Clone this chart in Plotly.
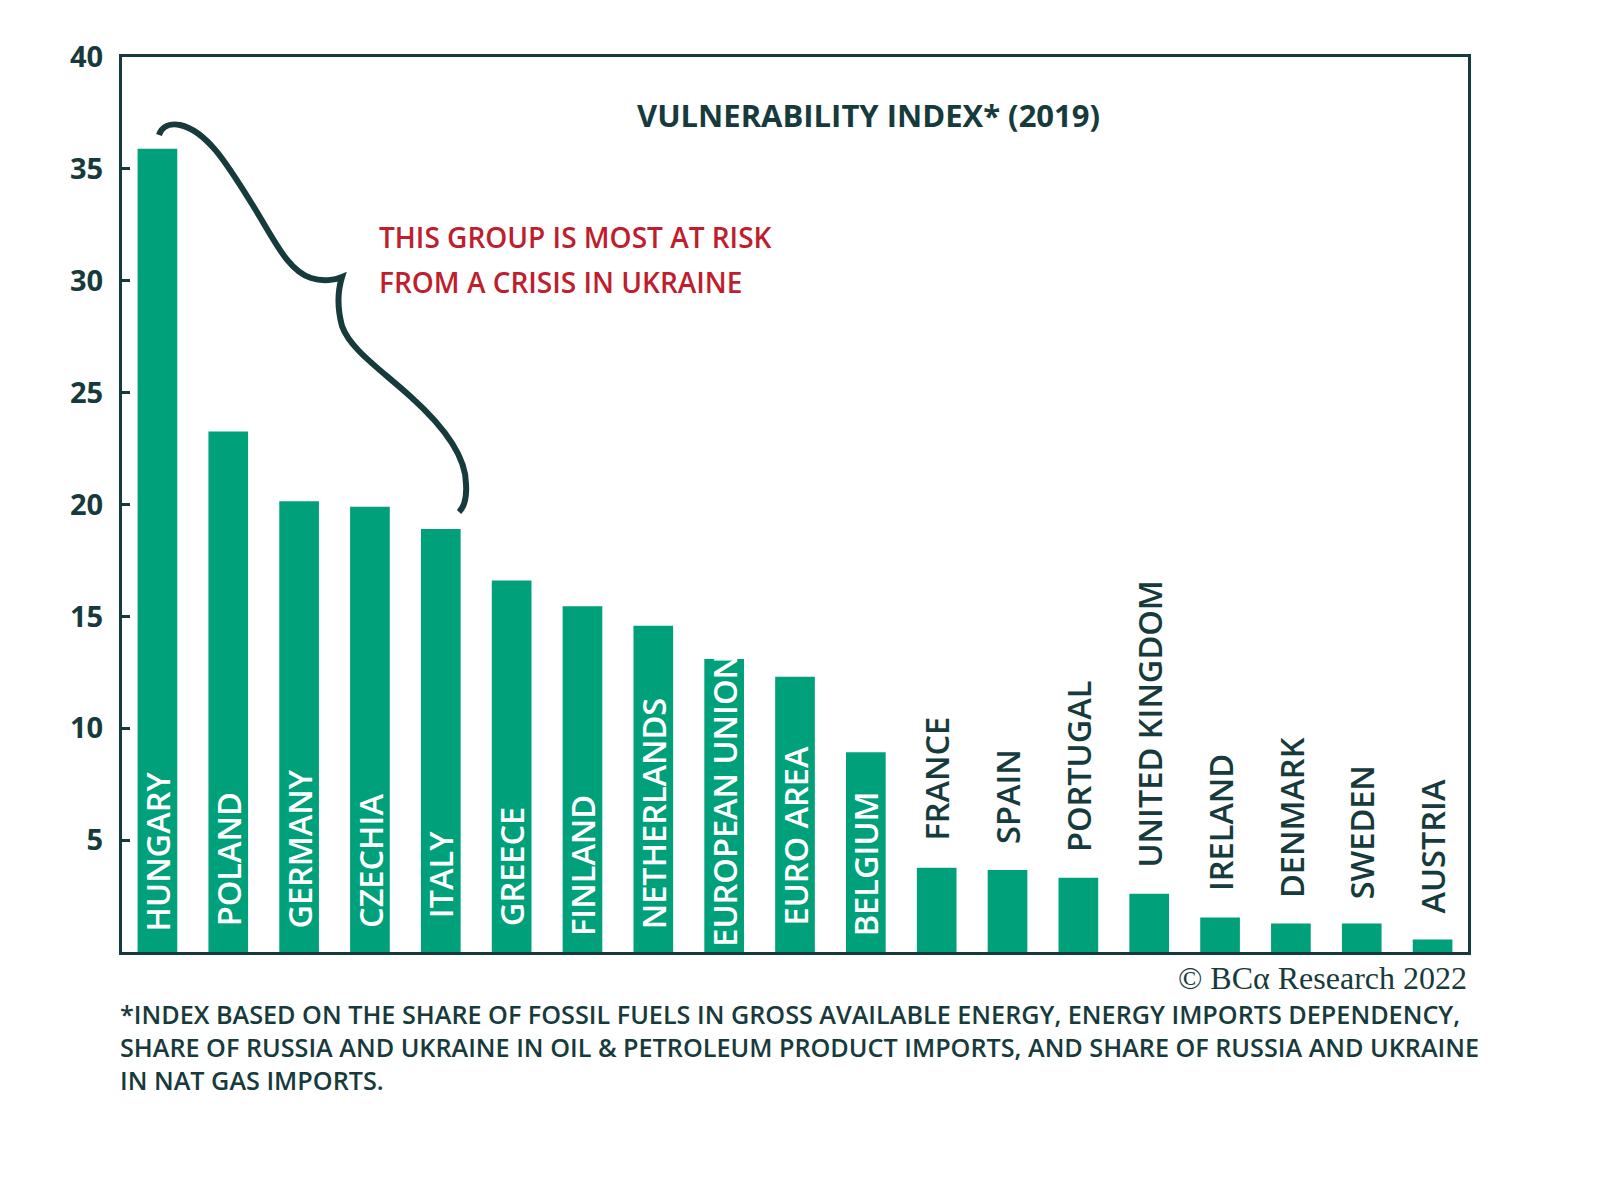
import plotly.graph_objects as go

# ---------------- data ----------------
countries = ["HUNGARY", "POLAND", "GERMANY", "CZECHIA", "ITALY", "GREECE", "FINLAND",
             "NETHERLANDS", "EUROPEAN UNION", "EURO AREA", "BELGIUM", "FRANCE", "SPAIN",
             "PORTUGAL", "UNITED KINGDOM", "IRELAND", "DENMARK", "SWEDEN", "AUSTRIA"]
index_2019 = [35.9, 23.26, 20.15, 19.9, 18.9, 16.6, 15.45, 14.58, 13.1, 12.3, 8.93,
              3.76, 3.67, 3.32, 2.6, 1.54, 1.27, 1.27, 0.56]
label_inside = [True] * 11 + [False] * 8
y_ticks = [5, 10, 15, 20, 25, 30, 35, 40]

# ---------------- styles ----------------
GREEN = "#00A07A"
DARK = "#173A3C"
RED = "#BE1E2D"
FONT = "Open Sans"
# per-label vertical lift in px (inside: from bar base, outside: from bar top)
label_lift = [19, 24, 21, 22, 32, 24, 14, 21, 3, 24, 14, 25, 24, 24, 24, 24, 24, 22, 24]

W, H = 1600, 1182
ML, MR, MT, MB = 114, 140, 49, 238
PW, PH = W - ML - MR, H - MT - MB


def px(x):
    return (x - ML) / PW


def py(y):
    return (H - MB - y) / PH


fig = go.Figure()
fig.add_trace(go.Bar(
    x=countries, y=index_2019,
    marker=dict(color=GREEN, line=dict(width=0)),
    hoverinfo="x+y",
))

annotations = []
for name, val, inside, lift in zip(countries, index_2019, label_inside, label_lift):
    annotations.append(dict(
        x=name, y=0 if inside else val, xref="x", yref="y",
        text=name, showarrow=False, textangle=-90,
        xanchor="center", yanchor="bottom", yshift=lift,
        font=dict(family=FONT, size=32.5, color="white" if inside else DARK, weight=600),
    ))

footnote = ("*INDEX BASED ON THE SHARE OF FOSSIL FUELS IN GROSS AVAILABLE ENERGY, ENERGY IMPORTS DEPENDENCY,<br>"
            "SHARE OF RUSSIA AND UKRAINE IN OIL & PETROLEUM PRODUCT IMPORTS, AND SHARE OF RUSSIA AND UKRAINE<br>"
            "IN NAT GAS IMPORTS.")

annotations += [
    dict(x=px(860), y=py(107), xref="paper", yref="paper", text="VULNERABILITY INDEX* (2019)",
         showarrow=False, xanchor="center", yanchor="middle",
         font=dict(family=FONT, size=31, color=DARK, weight=700)),
    dict(x=px(369), y=py(229), xref="paper", yref="paper", text="THIS GROUP IS MOST AT RISK",
         showarrow=False, xanchor="left", yanchor="middle",
         font=dict(family=FONT, size=28, color=RED, weight=600)),
    dict(x=px(369), y=py(274), xref="paper", yref="paper", text="FROM A CRISIS IN UKRAINE",
         showarrow=False, xanchor="left", yanchor="middle",
         font=dict(family=FONT, size=28, color=RED, weight=600)),
    dict(x=px(1461), y=py(970), xref="paper", yref="paper", text="© BCα Research 2022",
         showarrow=False, xanchor="right", yanchor="middle",
         font=dict(family="Liberation Serif", size=32, color=DARK)),
    dict(x=px(110), y=py(1039), xref="paper", yref="paper", text=footnote,
         showarrow=False, xanchor="left", yanchor="middle", align="left",
         font=dict(family=FONT, size=25.2, color=DARK, weight=600)),
]

# curly brace (decoration), pixel-space bezier converted to paper coordinates
brace = [("M", [(151, 127)]),
         ("C", [(154, 118), (162, 115), (172, 117)]),
         ("C", [(199, 123), (219, 156), (244, 196)]),
         ("C", [(266, 231), (279, 262), (303, 270)]),
         ("C", [(315, 274), (327, 272), (334, 269)]),
         ("C", [(329, 285), (330, 303), (334, 318)]),
         ("C", [(342, 341), (372, 361), (403, 389)]),
         ("C", [(433, 416), (458, 446), (458, 476)]),
         ("C", [(459, 491), (456, 499), (451, 504)])]
path = " ".join(cmd + " " + " ".join(f"{px(a):.5f},{py(b):.5f}" for a, b in pts) for cmd, pts in brace)

fig.update_layout(
    width=W, height=H,
    margin=dict(l=ML, r=MR, t=MT, b=MB, pad=0),
    paper_bgcolor="white", plot_bgcolor="white",
    showlegend=False, bargap=0.44,
    annotations=annotations,
    shapes=[dict(type="path", xref="paper", yref="paper", path=path,
                 line=dict(color=DARK, width=6))],
    xaxis=dict(showticklabels=False, ticks="", showgrid=False, zeroline=False,
               showline=True, mirror=True, linecolor=DARK, linewidth=3),
    yaxis=dict(range=[0, 40], tickvals=y_ticks, ticks="inside", ticklen=8, tickwidth=2.5,
               tickcolor=DARK, showgrid=False, zeroline=False, showline=True, mirror=True,
               linecolor=DARK, linewidth=3, ticklabelstandoff=10,
               tickfont=dict(family=FONT, size=29, color=DARK, weight=700)),
)

fig.write_html("out.html")
